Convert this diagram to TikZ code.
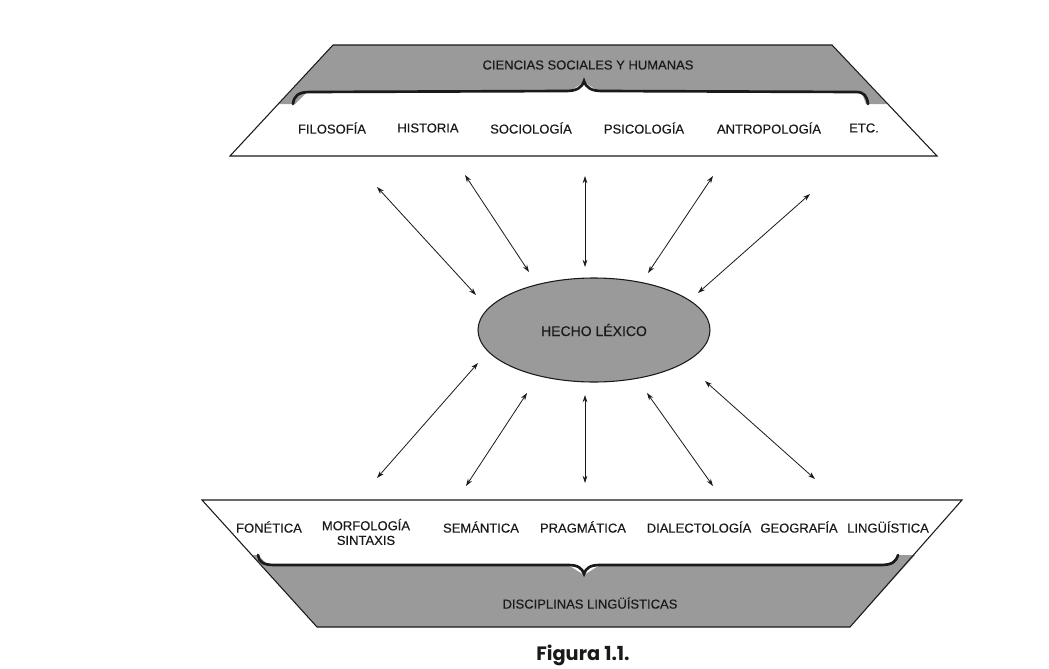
\documentclass[tikz,border=0pt]{standalone}
\usepackage{fontspec}
\setmainfont{Liberation Sans}
\newfontfamily\lblfont{Liberation Sans}[FakeBold=0.3]
\newfontfamily\capfont{Poppins}
\usetikzlibrary{arrows.meta,shapes.geometric}
\definecolor{halftone}{HTML}{9A9A9A}
\definecolor{ink}{HTML}{1A1A1A}
\tikzset{
  lbl/.style={font=\lblfont\fontsize{9.75}{11}\selectfont, text=ink, inner sep=0pt, align=center},
  conn/.style={{Stealth[length=5.5pt,width=3.6pt]}-{Stealth[length=5.5pt,width=3.6pt]}, line width=0.6pt, draw=ink},
  bracestroke/.style={line width=2pt, line cap=round, draw=ink},
  edge/.style={line width=0.8pt, line join=miter, draw=ink},
}
\begin{document}
\begin{tikzpicture}[x=0.75pt,y=-0.75pt]
\useasboundingbox (0,0) rectangle (1049,668);
\fill[white] (0,0) rectangle (1049,668);

% ---- top trapezoid ----
\fill[halftone] (333,45) -- (832,45) -- (887,104) -- (866,104) -- (862,93) -- (598,91) -- (584,82) -- (570,91) -- (306,93) -- (295,104) -- (279,104) -- cycle;
\draw[bracestroke] (293,104) .. controls (294,96) and (298,92) .. (310,92) -- (566,91) .. controls (576,91) and (582,88) .. (584,81) .. controls (586,88) and (592,91) .. (602,91) -- (856,92) .. controls (864,92) and (867,96) .. (868,104);
\draw[edge] (333,45) -- (832,45) -- (937,156) -- (230,156) -- cycle;
\node[lbl] (ciencias) at (588,65) {CIENCIAS SOCIALES Y HUMANAS};
\node[lbl] (filo) at (332,128) {FILOSOFÍA};
\node[lbl] (hist) at (428,128) {HISTORIA};
\node[lbl] (soc) at (531,128) {SOCIOLOGÍA};
\node[lbl] (psi) at (644,128) {PSICOLOGÍA};
\node[lbl] (antro) at (769,128) {ANTROPOLOGÍA};
\node[lbl] (etc) at (864,128) {ETC.};

% ---- bottom trapezoid ----
\fill[halftone] (252,555) -- (258,555) -- (268,565) -- (568,565) -- (584,575) -- (600,565) -- (890,565) -- (898,555) -- (915,555) -- (850,627) -- (317,627) -- cycle;
\draw[bracestroke] (258,555) .. controls (259,562) and (263,565) .. (275,565) -- (568,565) .. controls (578,565) and (582,568) .. (584,574) .. controls (586,568) and (590,565) .. (600,565) -- (880,565) .. controls (892,565) and (896,562) .. (898,555);
\draw[edge] (202,500) -- (962,500) -- (850,627) -- (317,627) -- cycle;
\node[lbl] (disc) at (590,603) {DISCIPLINAS LINGÜÍSTICAS};
\node[lbl] (fon) at (269,527) {FONÉTICA};
\node[lbl] (morf) at (366,532) {MORFOLOGÍA\\SINTAXIS};
\node[lbl] (sem) at (481,527) {SEMÁNTICA};
\node[lbl] (prag) at (583,527) {PRAGMÁTICA};
\node[lbl] (dial) at (699,527) {DIALECTOLOGÍA};
\node[lbl] (geo) at (799,527) {GEOGRAFÍA};
\node[lbl] (ling) at (888,527) {LINGÜÍSTICA};

% ---- central ellipse ----
\node[ellipse, draw=ink, line width=0.8pt, fill=halftone, minimum width=174pt, minimum height=78pt, inner sep=0pt, font=\lblfont\fontsize{10.5}{12}\selectfont, text=ink] (hecho) at (594,330) {HECHO LÉXICO};

% ---- arrows ----
\coordinate (t1a) at (377,187); \coordinate (t1b) at (476,295);
\coordinate (t2a) at (465,175); \coordinate (t2b) at (529,272);
\coordinate (t3a) at (585,176); \coordinate (t3b) at (585,267);
\coordinate (t4a) at (713,176); \coordinate (t4b) at (648,273);
\coordinate (t5a) at (810,194); \coordinate (t5b) at (698,293);
\coordinate (b1a) at (478,363); \coordinate (b1b) at (377,478);
\coordinate (b2a) at (527,393); \coordinate (b2b) at (466,486);
\coordinate (b3a) at (585,395); \coordinate (b3b) at (585,483);
\coordinate (b4a) at (647,393); \coordinate (b4b) at (713,486);
\coordinate (b5a) at (705,381); \coordinate (b5b) at (815,479);
\foreach \p in {t1,t2,t3,t4,t5,b1,b2,b3,b4,b5}
  \draw[conn] (\p a) -- (\p b);

% ---- caption ----
\node[font=\capfont\bfseries\fontsize{14.5}{17}\selectfont, text=ink, inner sep=0pt] (cap) at (583,655) {Figura 1.1.};
\end{tikzpicture}
\end{document}
